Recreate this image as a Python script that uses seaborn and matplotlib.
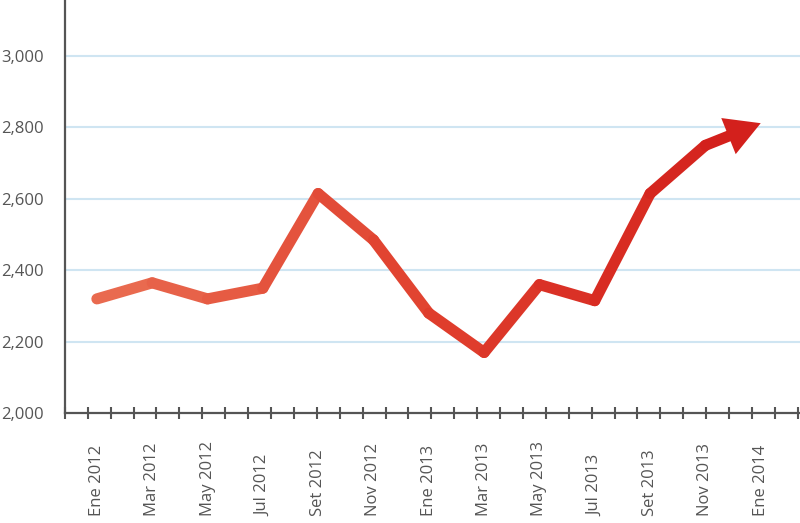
import numpy as np
import matplotlib
matplotlib.use("Agg")
import matplotlib.pyplot as plt
import seaborn as sns
from matplotlib.colors import LinearSegmentedColormap
from matplotlib.ticker import FuncFormatter, FixedLocator

months = ["Ene 2012", "Mar 2012", "May 2012", "Jul 2012", "Set 2012", "Nov 2012",
          "Ene 2013", "Mar 2013", "May 2013", "Jul 2013", "Set 2013", "Nov 2013",
          "Ene 2014"]
values = [2320, 2365, 2320, 2350, 2615, 2485, 2280, 2170, 2360, 2315, 2615, 2750, 2812]
yticks = [2000, 2200, 2400, 2600, 2800, 3000]

sns.set_style("white")
plt.rcParams["font.family"] = ["Open Sans", "DejaVu Sans"]

fig = plt.figure(figsize=(8, 5.23), dpi=100)
ax = fig.add_axes([0.081, 0.21, 0.919, 0.79])

x = np.arange(len(months))
cmap = LinearSegmentedColormap.from_list("redgrad", ["#E96A4F", "#E0402E", "#D3201C"])

# gradient line, one segment at a time; last segment stops short for the arrow head
n = len(values)
for i in range(n - 1):
    xs = [x[i], x[i + 1]]
    ys = [values[i], values[i + 1]]
    if i == n - 2:
        xs = [x[i], x[i] + 0.55 * (x[i + 1] - x[i])]
        ys = [values[i], values[i] + 0.55 * (values[i + 1] - values[i])]
    sns.lineplot(x=xs, y=ys, ax=ax, color=cmap(i / (n - 2)), lw=8,
                 solid_capstyle="round", solid_joinstyle="round", legend=False)

ax.annotate("", xy=(x[-1], values[-1]), xytext=(x[-2] + 0.45 * (x[-1] - x[-2]),
            values[-2] + 0.45 * (values[-1] - values[-2])),
            arrowprops=dict(arrowstyle="-|>,head_length=1.25,head_width=0.7",
                            mutation_scale=20, lw=0, color="#D3201C",
                            shrinkA=0, shrinkB=0))

ax.set_xlim(-0.58, 12.71)
ax.set_ylim(2000, 3157)

ax.set_yticks(yticks)
ax.yaxis.set_major_formatter(FuncFormatter(lambda v, p: f"{int(v):,}"))
ax.yaxis.set_minor_locator(FixedLocator([2000]))
for yv in yticks[1:]:
    ax.axhline(yv, color="#CFE5F2", lw=1.5, zorder=0)

ax.set_xticks(x)
ax.set_xticklabels(months, rotation=90, va="bottom", ha="center")
minor = np.arange(-0.58, 12.75, 0.4141)
ax.xaxis.set_minor_locator(FixedLocator(minor))

ax.tick_params(axis="x", which="major", bottom=True, length=0, pad=74,
               labelsize=12, labelcolor="#555555")
ax.tick_params(axis="x", which="minor", bottom=True, direction="inout", length=8,
               width=1.5, color="#555555")
ax.tick_params(axis="y", which="major", left=True, length=0, pad=15,
               labelsize=12, labelcolor="#555555")
ax.tick_params(axis="y", which="minor", left=True, direction="out", length=4,
               width=1.6, color="#555555")

for s in ["top", "right"]:
    ax.spines[s].set_visible(False)
for s in ["left", "bottom"]:
    ax.spines[s].set_color("#555555")
    ax.spines[s].set_linewidth(1.6)

ax.set_xlabel("")
ax.set_ylabel("")

fig.savefig("out.png", dpi=100)
